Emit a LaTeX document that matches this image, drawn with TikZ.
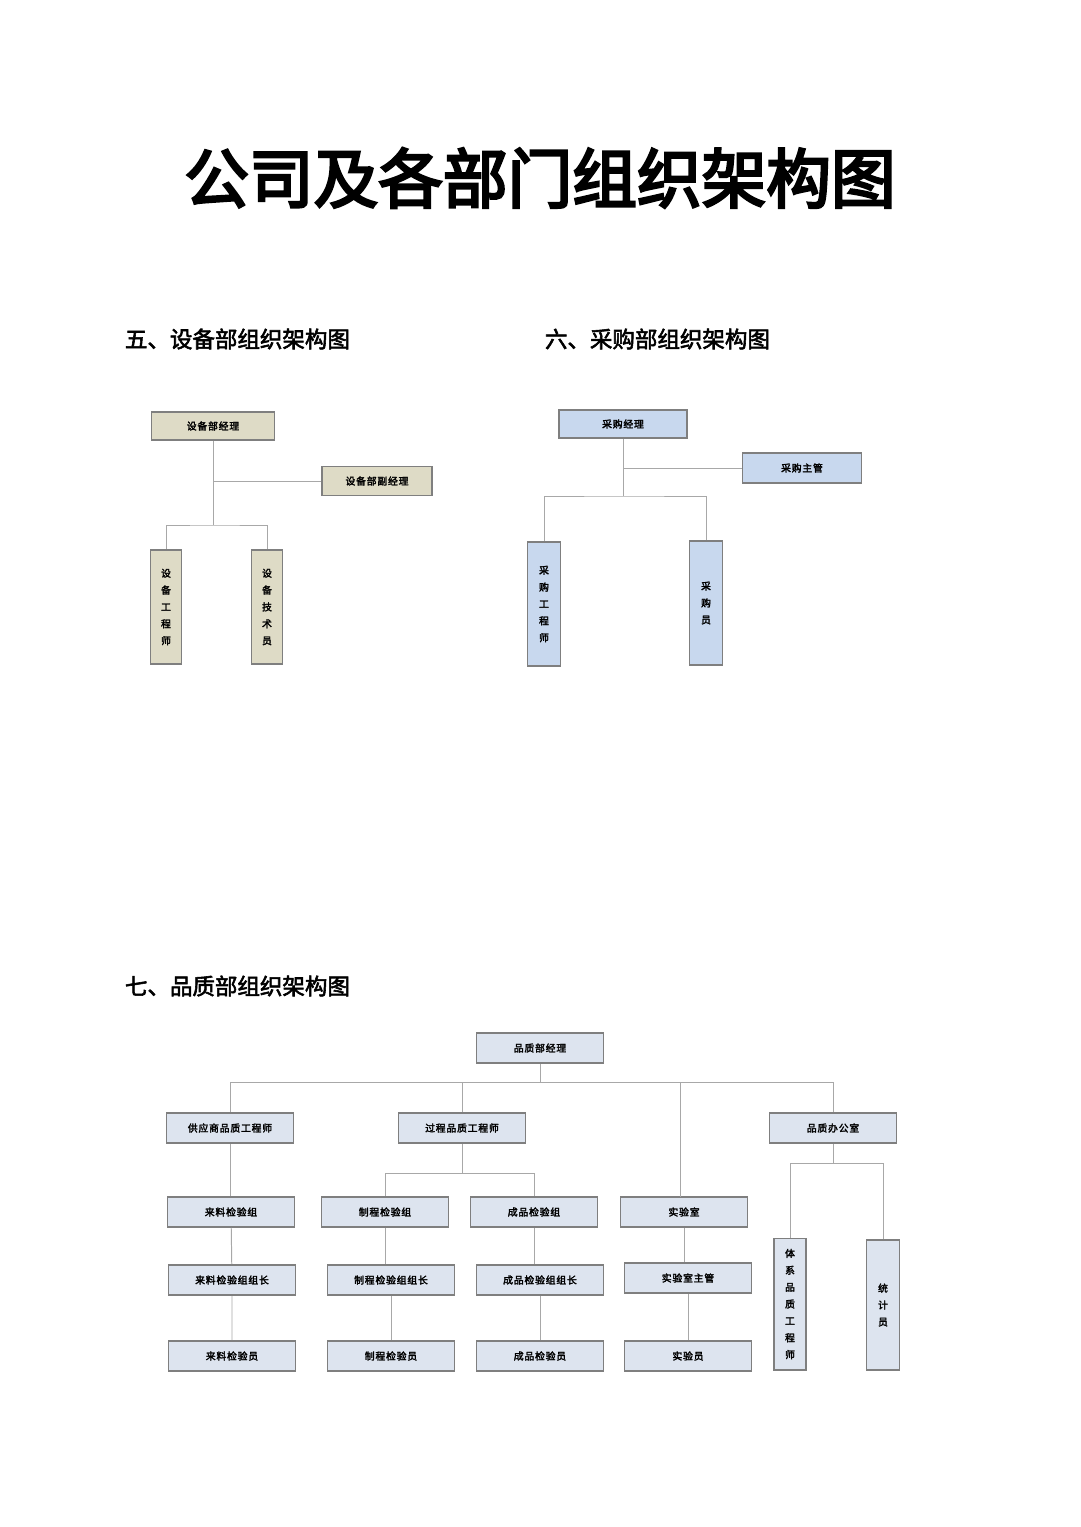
\documentclass[tikz,border=0pt]{standalone}
\usepackage{fontspec}
\setmainfont{Noto Sans CJK SC}[AutoFakeBold=2.5,LetterSpace=8]
\newfontfamily\cjkb{Noto Sans CJK SC}[AutoFakeBold=4]
\newfontfamily\cjkh{Noto Sans CJK SC}[AutoFakeBold=2.5]
\definecolor{tan}{HTML}{DEDBC6}
\definecolor{pb}{HTML}{C8D8EE}
\definecolor{qb}{HTML}{DDE4EF}
\definecolor{bd}{HTML}{7F7F7F}
\definecolor{ln}{HTML}{A8A8A8}
\tikzset{
 bx/.style={draw=bd,line width=1.4pt,minimum width=127\un,minimum height=30\un,font=\fontsize{7}{8}\selectfont\bfseries,inner sep=0pt},
 vbx/.style={bx,minimum width=32\un,align=center,font=\fontsize{7}{12}\selectfont\bfseries},
 cn/.style={draw=ln,line width=0.7pt},
 hd/.style={anchor=west,font=\cjkh\fontsize{16}{18}\selectfont\bfseries}
}
\newcommand{\un}{mm*0.25}
\begin{document}
\begin{tikzpicture}[x=0.25mm,y=-0.25mm]
\useasboundingbox (0,0) rectangle (1080,1527);
\node[font=\cjkb\fontsize{46}{48}\selectfont\bfseries] (title) at (540,178) {公司及各部门组织架构图};
\node[hd] (h5) at (120,339) {五、设备部组织架构图};
\node[hd] (h6) at (540,339) {六、采购部组织架构图};
\node[hd] (h7) at (120,986) {七、品质部组织架构图};
% equipment
\begin{scope}[every node/.append style={fill=tan}]
\node[bx,minimum width=123\un,minimum height=28\un] (e1) at (213,426) {设备部经理};
\node[bx,minimum width=110\un,minimum height=29\un] (e2) at (377,481) {设备部副经理};
\node[vbx,minimum width=31\un,minimum height=114\un] (e3) at (166,607) {设\\备\\工\\程\\师};
\node[vbx,minimum width=31\un,minimum height=114\un] (e4) at (267,607) {设\\备\\技\\术\\员};
\end{scope}
\coordinate (eb) at (213,525);
\draw[cn] (e1.south) -- (eb);
\draw[cn] (e1.south |- e2.west) -- (e2.west);
\draw[cn] (e3.north) |- (eb) -| (e4.north);
% purchase
\begin{scope}[every node/.append style={fill=pb}]
\node[bx,minimum width=128\un,minimum height=28\un] (p1) at (623,424) {采购经理};
\node[bx,minimum width=119\un,minimum height=30\un] (p2) at (802,468) {采购主管};
\node[vbx,minimum width=33\un,minimum height=124\un] (p3) at (544,604) {采\\购\\工\\程\\师};
\node[vbx,minimum width=33\un,minimum height=124\un] (p4) at (706,603) {采\\购\\员};
\end{scope}
\coordinate (pb) at (623,496);
\draw[cn] (p1.south) -- (pb);
\draw[cn] (p1.south |- p2.west) -- (p2.west);
\draw[cn] (p3.north) |- (pb) -| (p4.north);
% quality
\begin{scope}[every node/.append style={fill=qb}]
\node[bx] (q0) at (540,1048) {品质部经理};
\node[bx] (qa) at (230,1128) {供应商品质工程师};
\node[bx] (qb) at (462,1128) {过程品质工程师};
\node[bx] (qd) at (833,1128) {品质办公室};
\node[bx] (a1) at (231,1212) {来料检验组};
\node[bx] (a2) at (232,1280) {来料检验组组长};
\node[bx] (a3) at (232,1356) {来料检验员};
\node[bx] (b1) at (385,1212) {制程检验组};
\node[bx] (b2) at (391,1280) {制程检验组组长};
\node[bx] (b3) at (391,1356) {制程检验员};
\node[bx] (c1) at (534,1212) {成品检验组};
\node[bx] (c2) at (540,1280) {成品检验组组长};
\node[bx] (c3) at (540,1356) {成品检验员};
\node[bx] (l1) at (684,1212) {实验室};
\node[bx] (l2) at (688,1278) {实验室主管};
\node[bx] (l3) at (688,1356) {实验员};
\node[vbx,minimum height=131\un] (d1) at (790,1304) {体\\系\\品\\质\\工\\程\\师};
\node[vbx,minimum width=33\un,minimum height=130\un] (d2) at (883,1305) {统\\计\\员};
\end{scope}
\coordinate (qbar) at (540,1082);
\draw[cn] (q0.south) -- (qbar);
\draw[cn] (qa.north) |- (qbar) -| (qd.north);
\draw[cn] (qb.north) -- (qb.north |- qbar);
\draw[cn] (680,1082) -- (680,1197);
\draw[cn] (qa.south) -- (qa.south |- a1.north);
\draw[cn] (a1) -- (a2) (a2) -- (a3);
\coordinate (bbar) at (462,1173);
\draw[cn] (qb.south) -- (bbar);
\draw[cn] (b1.north) |- (bbar) -| (c1.north);
\draw[cn] (b1.south) -- (b1.south |- b2.north);
\draw[cn] (b2) -- (b3) (c1) -- (c1.south |- c2.north) (c2) -- (c3);
\draw[cn] (l1.south) -- (l1.south |- l2.north) (l2) -- (l3);
\coordinate (dbar) at (833,1163);
\draw[cn] (qd.south) -- (dbar);
\draw[cn] (d1.north) |- (dbar) -| (d2.north);
\end{tikzpicture}
\end{document}
